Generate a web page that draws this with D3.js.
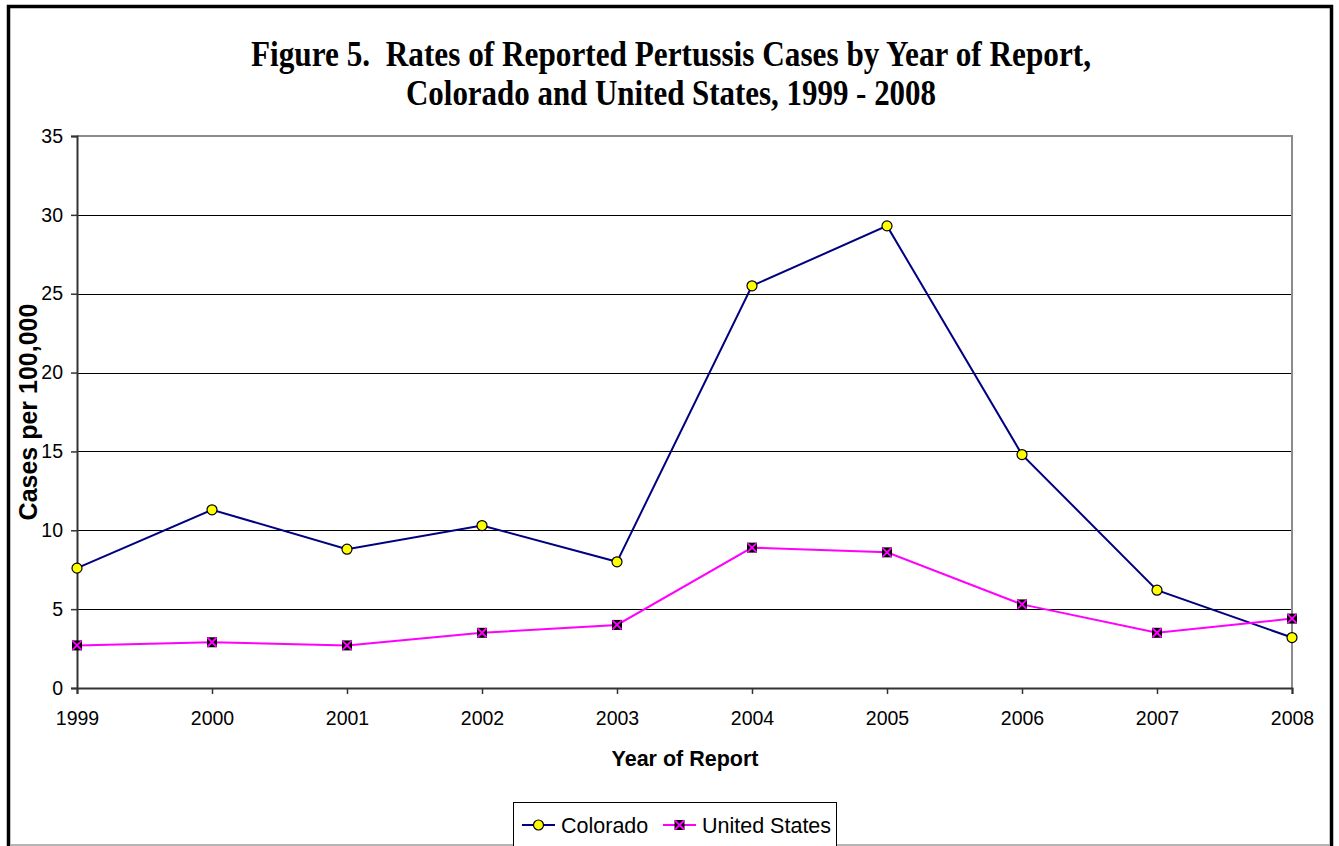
<!DOCTYPE html>
<html>
<head>
<meta charset="utf-8">
<script src="https://cdn.jsdelivr.net/npm/d3@7"></script>
<style>
  body { margin: 0; background: #fff; }
  svg { display: block; }
</style>
</head>
<body>
<div id="chart"></div>
<script>
// Data
const years = [1999, 2000, 2001, 2002, 2003, 2004, 2005, 2006, 2007, 2008];
const coloradoRates = [7.6, 11.3, 8.8, 10.3, 8.0, 25.5, 29.3, 14.8, 6.2, 3.2];
const usRates = [2.7, 2.9, 2.7, 3.5, 4.0, 8.9, 8.6, 5.3, 3.5, 4.4];
const yTicks = [0, 5, 10, 15, 20, 25, 30, 35];
const titleLines = [
  'Figure 5.  Rates of Reported Pertussis Cases by Year of Report,',
  'Colorado and United States, 1999 - 2008'
];

// Configuration
const config = {
  width: 1339,
  height: 846,
  left: 77,
  right: 1292,
  top: 136,
  bottom: 688
};

const svg = d3.select('#chart')
  .append('svg')
  .attr('width', config.width)
  .attr('height', config.height);

// Outer frame
svg.append('rect')
  .attr('x', 8.5).attr('y', 6.5)
  .attr('width', 1323).attr('height', 900)
  .attr('fill', 'none')
  .attr('stroke', '#000')
  .attr('stroke-width', 3.5);

svg.append('line')
  .attr('x1', 10).attr('x2', 1330)
  .attr('y1', 845).attr('y2', 845)
  .attr('stroke', '#b4b4b4')
  .attr('stroke-width', 2);

// Title
svg.selectAll('.title')
  .data(titleLines)
  .enter()
  .append('text')
  .attr('class', 'title')
  .attr('x', 671)
  .attr('y', (d, i) => 66 + i * 39)
  .attr('text-anchor', 'middle')
  .attr('textLength', (d, i) => i === 0 ? 840 : 530)
  .attr('lengthAdjust', 'spacingAndGlyphs')
  .style('white-space', 'pre')
  .style('font-family', '"Liberation Serif", "Times New Roman", serif')
  .style('font-weight', 'bold')
  .style('font-size', '36px')
  .text(d => d);

// Scales
const x = d3.scalePoint()
  .domain(years)
  .range([config.left, config.right]);

const y = d3.scaleLinear()
  .domain([0, 35])
  .range([config.bottom, config.top]);

// Gridlines
svg.append('g')
  .selectAll('line')
  .data(yTicks.filter(d => d > 0 && d < 35))
  .enter()
  .append('line')
  .attr('x1', config.left).attr('x2', config.right)
  .attr('y1', d => Math.round(y(d)) + 0.5)
  .attr('y2', d => Math.round(y(d)) + 0.5)
  .attr('stroke', '#000')
  .attr('stroke-width', 1);

// Plot area border (top and right)
svg.append('path')
  .attr('d', `M${config.left},${config.top}H${config.right}V${config.bottom}`)
  .attr('fill', 'none')
  .attr('stroke', '#8c8c8c')
  .attr('stroke-width', 2);

// Axes
const fontSans = 'Arial, "Liberation Sans", sans-serif';

const yAxis = svg.append('g')
  .attr('transform', `translate(${config.left},0)`)
  .call(d3.axisLeft(y).tickValues(yTicks).tickSize(6).tickPadding(8));

const xAxis = svg.append('g')
  .attr('transform', `translate(0,${config.bottom})`)
  .call(d3.axisBottom(x).tickSize(6).tickPadding(17));

[yAxis, xAxis].forEach(g => {
  g.select('.domain').attr('stroke', '#333').attr('stroke-width', 2);
  g.selectAll('.tick line').attr('stroke', '#333').attr('stroke-width', 1.5);
  g.selectAll('.tick text')
    .attr('fill', '#000')
    .style('font-family', fontSans)
    .style('font-size', '19.5px');
});

// Axis titles
svg.append('text')
  .attr('x', 685)
  .attr('y', 766)
  .attr('text-anchor', 'middle')
  .style('font-family', fontSans)
  .style('font-weight', 'bold')
  .style('font-size', '21.5px')
  .text('Year of Report');

svg.append('text')
  .attr('transform', 'translate(37,412) rotate(-90)')
  .attr('text-anchor', 'middle')
  .style('font-family', fontSans)
  .style('font-weight', 'bold')
  .style('font-size', '25px')
  .text('Cases per 100,000');

// Series
const series = [
  { name: 'Colorado', values: coloradoRates, color: '#000080', marker: 'circle' },
  { name: 'United States', values: usRates, color: '#ff00ff', marker: 'xsquare' }
];

const line = d3.line()
  .x((d, i) => x(years[i]))
  .y(d => y(d));

function drawMarker(g, type, color) {
  if (type === 'circle') {
    g.append('circle')
      .attr('r', 5)
      .attr('fill', '#ffff00')
      .attr('stroke', '#000')
      .attr('stroke-width', 1.2);
  } else {
    g.append('rect')
      .attr('x', -5).attr('y', -5)
      .attr('width', 10).attr('height', 10)
      .attr('fill', '#000');
    g.append('path')
      .attr('d', 'M-4.5,-4.5L4.5,4.5M-4.5,4.5L4.5,-4.5')
      .attr('stroke', color)
      .attr('stroke-width', 2);
  }
}

series.forEach(s => {
  svg.append('path')
    .datum(s.values)
    .attr('d', line)
    .attr('fill', 'none')
    .attr('stroke', s.color)
    .attr('stroke-width', 2);

  s.values.forEach((v, i) => {
    const g = svg.append('g')
      .attr('transform', `translate(${x(years[i])},${y(v)})`);
    drawMarker(g, s.marker, s.color);
  });
});

// Legend
const legend = svg.append('g');
legend.append('rect')
  .attr('x', 513.5).attr('y', 802.5)
  .attr('width', 323).attr('height', 60)
  .attr('fill', '#fff')
  .attr('stroke', '#000')
  .attr('stroke-width', 1);

const legendItems = [
  { s: series[0], x: 522, textX: 561 },
  { s: series[1], x: 663, textX: 702 }
];

legendItems.forEach(item => {
  legend.append('line')
    .attr('x1', item.x).attr('x2', item.x + 33)
    .attr('y1', 825).attr('y2', 825)
    .attr('stroke', item.s.color)
    .attr('stroke-width', 2);
  const g = legend.append('g')
    .attr('transform', `translate(${item.x + 16.5},825)`);
  drawMarker(g, item.s.marker, item.s.color);
  legend.append('text')
    .attr('x', item.textX)
    .attr('y', 833)
    .style('font-family', fontSans)
    .style('font-size', '21.5px')
    .text(item.s.name);
});
</script>
</body>
</html>
